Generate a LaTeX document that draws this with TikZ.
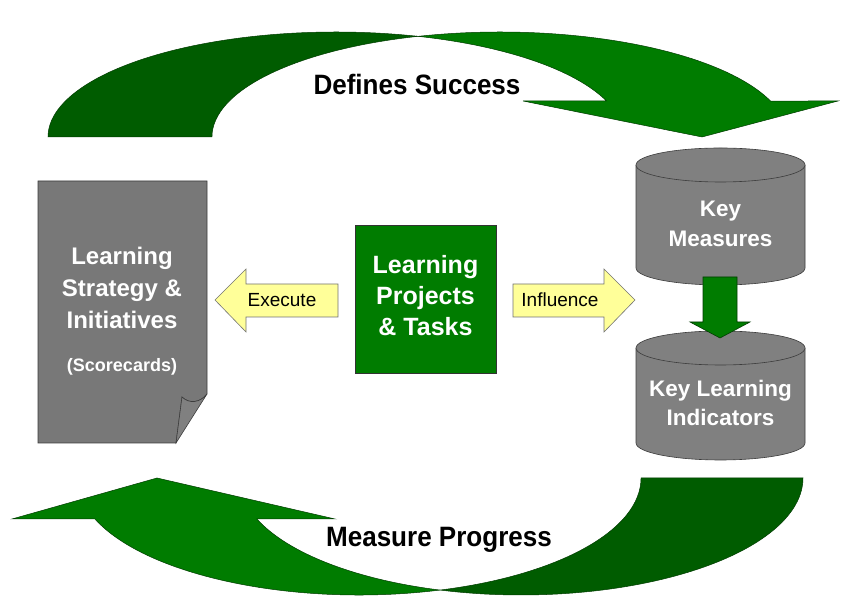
\documentclass[tikz,border=0pt]{standalone}
\usepackage{fontspec}
\setmainfont{Liberation Sans}
\definecolor{bandlight}{RGB}{0,124,0}
\definecolor{banddark}{RGB}{0,92,0}
\definecolor{bandedge}{RGB}{0,60,0}
\definecolor{boxgreen}{RGB}{0,124,0}
\definecolor{docgray}{RGB}{120,120,120}
\definecolor{flapgray}{RGB}{128,128,128}
\definecolor{cylgray}{RGB}{128,128,128}
\definecolor{edgegray}{RGB}{60,60,60}
\definecolor{noteyellow}{RGB}{255,255,153}
\newcommand{\narrowlabel}[1]{\scalebox{0.93}[1]{#1}}
\begin{document}
\begin{tikzpicture}[x=1pt,y=1pt,
  bandfront/.style={fill=bandlight, draw=bandedge, line width=0.5pt},
  bandback/.style={fill=banddark, draw=bandedge, line width=0.5pt},
  grayshape/.style={draw=edgegray, line width=0.6pt},
  blockarrow/.style={fill=noteyellow, draw=black!55, line width=0.6pt},
  bigwhite/.style={text=white, align=center, font=\bfseries\fontsize{24}{31}\selectfont},
  cyltext/.style={text=white, align=center, font=\bfseries\fontsize{22.5}{29.5}\selectfont},
  looplabel/.style={text=black, font=\bfseries\fontsize{28}{32}\selectfont},
  arrowlabel/.style={text=black, font=\fontsize{19}{23}\selectfont}]
\useasboundingbox (0,0) rectangle (841,596);
\fill[white] (0,0) rectangle (841,596);

% upper curved arrow: rear band, then front band with its head
\path[bandback] (48,459)
  arc[start angle=180, end angle=73.46, x radius=288, y radius=105]
  arc[start angle=106.54, end angle=180, x radius=288, y radius=105] -- cycle;
\path[bandfront] (418,559.63)
  arc[start angle=106.54, end angle=20.05, x radius=288, y radius=105]
  -- (838,495) -- (702,459) -- (523,495) -- (606.5,495)
  arc[start angle=20.05, end angle=73.46, x radius=288, y radius=105] -- cycle;
\node[looplabel] (defines) at (417,511) {\narrowlabel{Defines Success}};

% lower curved arrow: rear band, then front band with its head
\path[bandback] (803,118)
  arc[start angle=0, end angle=-106.69, x radius=282, y radius=117]
  arc[start angle=-73.31, end angle=0, x radius=282, y radius=117] -- cycle;
\path[bandfront] (440,5.93)
  arc[start angle=-73.31, end angle=-159.49, x radius=282, y radius=117]
  -- (12,77) -- (157,118) -- (335,77) -- (256.9,77)
  arc[start angle=-159.49, end angle=-106.69, x radius=282, y radius=117] -- cycle;
\node[looplabel] (measure) at (439,56) {\narrowlabel{Measure Progress}};

% scorecard page with a curled corner
\path[grayshape, fill=docgray] (38,415) -- (207,415) -- (207,202)
  .. controls (200,193) and (189,192) .. (182,199) -- (176,153) -- (38,153) -- cycle;
\path[grayshape, fill=flapgray] (182,199) .. controls (189,192) and (200,193) .. (207,202)
  -- (176,153) -- cycle;
\node[bigwhite, font=\bfseries\fontsize{24}{32}\selectfont] (strategy) at (122,308)
  {Learning\\Strategy \&\\Initiatives};
\node[text=white, font=\bfseries\fontsize{18}{22}\selectfont] (scorecards) at (122,229) {(Scorecards)};

% central task box
\node[draw=black!80, line width=0.6pt, fill=boxgreen, minimum width=141pt, minimum height=148pt,
  inner sep=0pt] (tasks) at (425.5,297) {};
\node[bigwhite, font=\bfseries\fontsize{25}{31}\selectfont] (taskstext) at (425.5,300)
  {Learning\\Projects\\\& Tasks};

% block arrows left and right of the task box
\path[blockarrow] (338,312) -- (246,312) -- (246,327) -- (215,296) -- (246,264)
  -- (246,279) -- (338,279) -- cycle;
\node[arrowlabel] (execute) at (282,296) {Execute};
\path[blockarrow] (513,312) -- (604,312) -- (604,327) -- (635,296) -- (604,264)
  -- (604,279) -- (513,279) -- cycle;
\node[arrowlabel] (influence) at (560,296) {Influence};

% measure cylinders
\path[grayshape, fill=cylgray] (636,431) -- (636,328)
  arc[start angle=180, end angle=360, x radius=84.5, y radius=17] -- (805,431);
\path[grayshape, fill=cylgray] (720.5,431) ellipse[x radius=84.5, y radius=17];
\node[cyltext] (keymeasures) at (720.5,372) {Key\\Measures};

\path[grayshape, fill=cylgray] (636,248) -- (636,153)
  arc[start angle=180, end angle=360, x radius=84.5, y radius=17] -- (805,248);
\path[grayshape, fill=cylgray] (720.5,248) ellipse[x radius=84.5, y radius=17];
\node[cyltext] (indicators) at (720.5,193) {Key Learning\\Indicators};

% arrow from measures down to indicators
\path[fill=boxgreen, draw=bandedge, line width=0.6pt] (703,319) -- (737,319) -- (737,274)
  -- (750,274) -- (720,258) -- (690,274) -- (703,274) -- cycle;
\end{tikzpicture}
\end{document}
